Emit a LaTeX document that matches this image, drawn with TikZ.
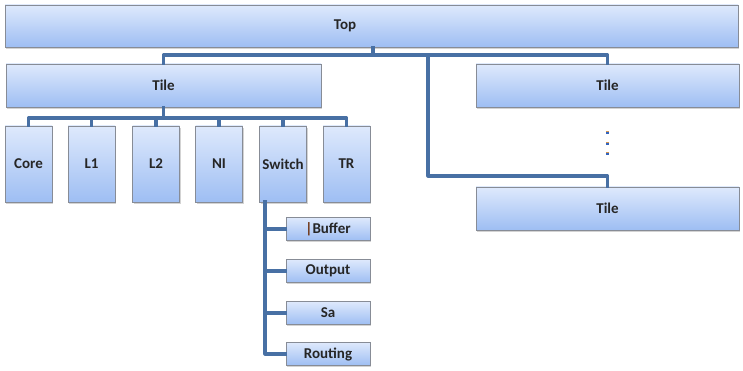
\documentclass[tikz,border=0pt]{standalone}
\usepackage{fontspec}
\setmainfont{Carlito}
\usetikzlibrary{shadows}
\definecolor{boxtop}{RGB}{222,233,252}
\definecolor{boxbot}{RGB}{158,190,243}
\definecolor{boxedge}{RGB}{135,140,150}
\definecolor{wire}{RGB}{72,112,164}
\definecolor{dotorange}{RGB}{214,150,80}
\definecolor{dotblue}{RGB}{50,100,190}
\definecolor{caret}{RGB}{110,50,15}
\tikzset{
  blockbox/.style={draw=boxedge, line width=0.7pt, top color=boxtop, bottom color=boxbot,
    drop shadow={shadow xshift=1.2pt, shadow yshift=-1.6pt, opacity=0.35},
    inner sep=0pt, font=\bfseries\fontsize{15}{17}\selectfont, text=black!85},
  wide/.style={blockbox, minimum height=43pt},
  leaf/.style={blockbox, minimum width=47pt, minimum height=76pt},
  sub/.style={blockbox, minimum width=84pt, minimum height=23pt},
  lbl/.style={font=\bfseries\fontsize{15}{17}\selectfont, text=black!85, inner sep=0pt},
  conn/.style={draw=wire, line width=3.2pt, line join=round, line cap=rect},
}
\begin{document}
\begin{tikzpicture}[x=1pt, y=-1pt]
  \useasboundingbox (0,0) rectangle (743,371);

  % top-level block and its caption
  \node[wide, minimum width=733pt, minimum height=42pt] (top) at (371.5,26) {};
  \node[lbl] (toplbl) at (345,26) {Top};

  % tiles
  \node[wide, minimum width=315pt] (tileL) at (163.5,85.5) {Tile};
  \node[wide, minimum width=263pt] (tileR) at (607.5,85.5) {Tile};
  \node[wide, minimum width=263pt] (tileN) at (607.5,208.5) {Tile};

  % components of the left tile
  \node[leaf] (core) at (28.5,164) {Core};
  \node[leaf] (l1) at (91.5,164) {L1};
  \node[leaf] (l2) at (156,164) {L2};
  \node[leaf] (ni) at (219,164) {NI};
  \node[leaf] (sw) at (283,164) {Switch};
  \node[leaf] (tr) at (346.5,164) {TR};

  % parts of the switch
  \node[sub] (buf) at (328,229) {{\color{caret}|}Buffer};
  \node[sub] (out) at (328,271) {Output};
  \node[sub] (sa) at (328,313) {Sa};
  \node[sub] (rt) at (328,354) {Routing};

  % junction points of the tree
  \coordinate (j1) at (373,55);
  \coordinate (j2) at (428,55);
  \coordinate (j3) at (428,176);
  \coordinate (b1) at (163.5,118);
  \coordinate (s1) at (265,202);

  % connectors: top level
  \draw[conn] (top.south -| j1) -- (j1) -| (tileL.north);
  \draw[conn] (j1) -| (tileR.north);
  \draw[conn] (j2) -- (j3) -| (tileN.north);

  % connectors: tile to its components
  \draw[conn] (tileL.south) -- (b1);
  \foreach \n in {core,l1,l2,ni,sw,tr}
    \draw[conn] (b1) -| (\n.north);

  % connectors: switch to its parts
  \foreach \n in {buf,out,sa,rt}
    \draw[conn] (s1) |- (\n.west);

  % vertical ellipsis between the right-hand tiles
  \foreach \y in {131,142,152} {
    \fill[dotorange] (605.5,\y) rectangle (608.5,\y+1.5);
    \fill[dotblue] (605.5,\y+1.5) rectangle (608.5,\y+3);
  }
\end{tikzpicture}
\end{document}
